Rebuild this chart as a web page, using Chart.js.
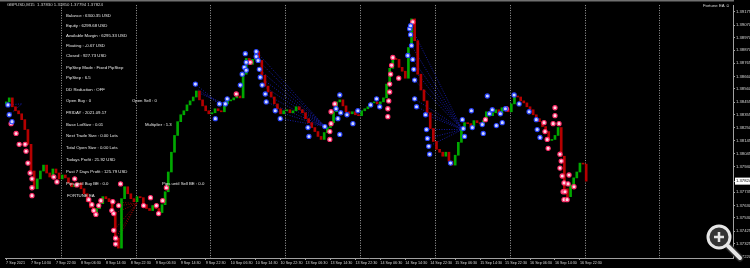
<!DOCTYPE html>
<html><head><meta charset="utf-8">
<script src="https://cdn.jsdelivr.net/npm/chart.js@4.4.1/dist/chart.umd.min.js"></script>
<style>
html,body{margin:0;padding:0;background:#000;overflow:hidden}
#wrap{position:relative;width:750px;height:268px;background:#000}
#c{position:absolute;left:0;top:0}
.t{position:absolute;color:#e8e8e8;font-family:"Liberation Sans",Arial,sans-serif;font-size:4.3px;line-height:5px;white-space:nowrap}
</style></head><body>
<div id="wrap"><canvas id="c" width="750" height="268"></canvas>
<div class="t" style="left:7px;top:2px;color:#d0d0d0">GBPUSD,M15&nbsp; 1.37830 1.37850 1.37794 1.37824</div>
<div class="t" style="left:66px;top:13px">Balance : 6300.35 USD</div>
<div class="t" style="left:66px;top:23px">Equity : 6299.68 USD</div>
<div class="t" style="left:66px;top:32.5px">Available Margin : 6295.33 USD</div>
<div class="t" style="left:66px;top:42.5px">Floating : -0.67 USD</div>
<div class="t" style="left:66px;top:52.5px">Closed : 927.73 USD</div>
<div class="t" style="left:66px;top:64.5px">PipStep Mode : Fixed PipStep</div>
<div class="t" style="left:66px;top:74.5px">PipStep : 6.5</div>
<div class="t" style="left:66px;top:86.5px">DD Reduction : OFF</div>
<div class="t" style="left:66px;top:98px">Open Buy : 0</div>
<div class="t" style="left:132px;top:98px">Open Sell : 0</div>
<div class="t" style="left:66px;top:110px">FRIDAY : 2021.09.17</div>
<div class="t" style="left:66px;top:121.5px">Base LotSize : 0.01</div>
<div class="t" style="left:145px;top:121.5px">Multiplier : 1.3</div>
<div class="t" style="left:66px;top:133px">Next Trade Size : 0.00 Lots</div>
<div class="t" style="left:66px;top:145px">Total Open Size : 0.00 Lots</div>
<div class="t" style="left:66px;top:157px">Todays Profit : 21.92 USD</div>
<div class="t" style="left:66px;top:168.5px">Past 7 Days Profit : 125.79 USD</div>
<div class="t" style="left:66px;top:181px">Pips until Buy BE : 0.0</div>
<div class="t" style="left:162px;top:181px">Pips until Sell BE : 0.0</div>
<div class="t" style="left:67px;top:192.5px">FORTUNE EA</div>
<div class="t" style="right:20px;top:2.5px;color:#d8d8d8">Fortune EA ☺</div>
</div>
<script>
// ---- data ----
const xTickLabels = ["7 Sep 2021","7 Sep 14:30","7 Sep 22:30","8 Sep 06:30","8 Sep 14:30","8 Sep 22:30",
  "9 Sep 06:30","9 Sep 14:30","9 Sep 22:30","10 Sep 06:30","10 Sep 14:30","10 Sep 22:30",
  "13 Sep 06:30","13 Sep 14:30","13 Sep 22:30","14 Sep 06:30","14 Sep 14:30","14 Sep 22:30",
  "15 Sep 06:30","15 Sep 14:30","15 Sep 22:30","16 Sep 06:30","16 Sep 14:30","16 Sep 22:30"];
const yTickValues = [1.39175,1.39070,1.38970,1.38870,1.38765,1.38660,1.38560,1.38455,1.38355,1.38250,
  1.38145,1.38045,1.37940,1.37824,1.37735,1.37630,1.37530,1.37425,1.37325,1.37220];
const currentPrice = 1.37824;
const daySeparators = [17.5,41.5,65.5,89.5,113.5,137.5,161.5,185.5,209.5];
const firstOpen = 1.38440;
const closes = [
1.38457,1.38489,1.38418,1.38386,1.38362,1.38315,1.38236,1.38118,1.37905,1.37763,
1.37842,1.37905,1.37952,1.37889,1.37857,1.37921,1.37889,1.37842,1.37873,1.37850,
1.37810,1.37779,1.37794,1.37810,1.37763,1.37723,1.37660,1.37613,1.37573,1.37605,
1.37644,1.37700,1.37684,1.37660,1.37573,1.37368,1.37289,1.37684,1.37779,1.37723,
1.37684,1.37660,1.37700,1.37692,1.37636,1.37605,1.37589,1.37629,1.37605,1.37573,
1.37636,1.37739,1.37897,1.38055,1.38189,1.38299,1.38354,1.38386,1.38433,1.38465,
1.38496,1.38544,1.38473,1.38425,1.38386,1.38362,1.38370,1.38402,1.38386,1.38378,
1.38441,1.38465,1.38473,1.38489,1.38504,1.38489,1.38678,1.38804,1.38757,1.38796,
1.38859,1.38788,1.38670,1.38583,1.38536,1.38496,1.38441,1.38402,1.38362,1.38386,
1.38394,1.38370,1.38386,1.38418,1.38394,1.38370,1.38323,1.38291,1.38252,1.38220,
1.38181,1.38157,1.38212,1.38252,1.38291,1.38378,1.38457,1.38473,1.38425,1.38378,
1.38362,1.38378,1.38354,1.38347,1.38386,1.38402,1.38418,1.38449,1.38457,1.38441,
1.38457,1.38489,1.38599,1.38725,1.38804,1.38796,1.38733,1.38702,1.38646,1.38891,
1.39120,1.38946,1.38678,1.38552,1.38465,1.38370,1.38244,1.38141,1.38078,1.38055,
1.38023,1.38055,1.37984,1.37952,1.38031,1.38134,1.38236,1.38291,1.38283,1.38260,
1.38307,1.38291,1.38283,1.38307,1.38378,1.38347,1.38370,1.38394,1.38362,1.38410,
1.38402,1.38378,1.38441,1.38504,1.38496,1.38465,1.38449,1.38418,1.38394,1.38354,
1.38323,1.38299,1.38260,1.38220,1.38149,1.38157,1.38189,1.38252,1.38023,1.37763,
1.37700,1.37794,1.37850,1.37897,1.37968,1.37960,1.37824];
const buyMarkers = [
[0.6,1.38433],[1.0,1.38354],[1.9,1.38299],[60.7,1.38599],[67.1,1.38323],[68.4,1.38441],[70.3,1.38441],
[70.9,1.38481],[75.1,1.38591],[75.7,1.38678],[76.4,1.38733],[76.7,1.38842],[77.0,1.38773],[77.0,1.38710],
[80.2,1.38859],[80.2,1.38820],[80.8,1.38788],[81.2,1.38717],[81.5,1.38654],[82.1,1.38591],[83.1,1.38520],
[83.4,1.38457],[86.3,1.38386],[87.9,1.38323],[96.8,1.38252],[97.1,1.38181],[102.2,1.38260],[105.8,1.38402],
[106.4,1.38323],[107.0,1.38512],[107.3,1.38370],[107.0,1.38197],[109.3,1.38354],[111.2,1.38283],[112.8,1.38386],
[116.9,1.38433],[118.8,1.38481],[119.8,1.38418],[128.8,1.38828],[129.4,1.39041],[129.7,1.39065],[129.7,1.38994],
[130.0,1.38907],[130.4,1.38796],[130.7,1.38717],[131.0,1.38631],[131.0,1.38481],[131.6,1.38418],[134.5,1.38354],
[134.8,1.38236],[135.1,1.38165],[135.5,1.38102],[135.8,1.38039],[142.5,1.37968],[146.3,1.38315],[146.6,1.38244],
[147.0,1.38181],[149.2,1.38386],[149.5,1.38252],[152.7,1.38276],[153.0,1.38205],[154.3,1.38504],[155.0,1.38362],
[155.9,1.38394],[157.2,1.38268],[158.5,1.38362],[159.1,1.38291],[160.1,1.38402],[162.9,1.38512],[164.5,1.38441],
[167.7,1.38378],[170.0,1.38315],[170.3,1.38236],[171.2,1.38173]];
const sellMarkers = [
[1.6,1.38283],[3.2,1.38205],[4.2,1.38118],[6.1,1.38118],[6.4,1.38063],[7.0,1.37968],[7.7,1.37889],[8.3,1.37842],
[8.3,1.37771],[8.3,1.37708],[15.3,1.37857],[16.3,1.37818],[22.0,1.37842],[22.7,1.37794],[26.5,1.37676],[27.5,1.37636],
[28.1,1.37589],[28.8,1.37558],[29.7,1.37629],[30.4,1.37668],[33.9,1.37589],[34.2,1.37660],[34.5,1.37565],[34.5,1.37431],
[35.1,1.37368],[35.1,1.37321],[36.1,1.37629],[36.7,1.37802],[44.1,1.37629],[46.3,1.37692],[48.2,1.37629],[48.9,1.37565],
[50.2,1.37668],[51.4,1.37771],[73.8,1.38520],[78.3,1.38773],[103.8,1.38157],[103.8,1.38220],[104.2,1.38283],[104.2,1.38378],
[105.4,1.38441],[122.4,1.38339],[122.4,1.38402],[122.7,1.38465],[123.0,1.38536],[123.0,1.38599],[123.3,1.38678],[123.6,1.38749],
[124.0,1.38812],[125.9,1.38646],[130.4,1.39096],[153.7,1.38315],[160.4,1.38402],[172.5,1.38291],[172.8,1.38220],[173.5,1.38157],
[173.8,1.38086],[176.0,1.38410],[176.0,1.38347],[175.4,1.38283],[177.3,1.38283],[177.6,1.38039],[178.0,1.37984],[177.6,1.37928],
[178.3,1.37865],[178.9,1.37810],[178.6,1.37739],[179.2,1.37739],[178.9,1.37676],[179.9,1.37676],[180.5,1.37873],[180.2,1.37802],
[182.1,1.37779]];
const buyLines = [
[0.6,1.38433,5.0,1.38441],[1.0,1.38354,5.0,1.38441],
[60.7,1.38599,68.4,1.38441],[61.7,1.38552,68.4,1.38441],[62.6,1.38520,70.3,1.38441],
[80.2,1.38859,102.2,1.38260],[80.8,1.38788,102.2,1.38260],[81.2,1.38717,102.2,1.38260],[81.5,1.38654,102.2,1.38260],
[82.1,1.38591,102.2,1.38260],[83.1,1.38520,102.2,1.38260],[83.4,1.38457,102.2,1.38260],[86.3,1.38386,102.2,1.38260],
[87.9,1.38323,102.2,1.38260],
[129.7,1.39065,146.3,1.38236],[130.0,1.38907,146.3,1.38236],[130.4,1.38796,146.3,1.38236],[130.7,1.38717,146.3,1.38236],
[131.0,1.38631,146.3,1.38236],[131.0,1.38481,146.3,1.38236],[131.6,1.38418,146.3,1.38236],[134.5,1.38354,146.3,1.38236],
[134.8,1.38236,146.3,1.38236],[135.1,1.38165,146.3,1.38236],[135.5,1.38102,146.3,1.38236]];
const sellLines = [
[34.2,1.37660,41.9,1.37644],[34.5,1.37565,41.9,1.37644],[34.5,1.37431,41.9,1.37644],
[35.1,1.37368,41.9,1.37644],[35.1,1.37321,41.9,1.37644],[36.1,1.37629,41.9,1.37644]];

// ---- build ----
const bars = closes.map((c,i)=>({x:i, y:[i===0?firstOpen:closes[i-1], c]}));
const barColors = bars.map(b=> b.y[1]>=b.y[0] ? '#00a800' : '#b40000');
const lineSets = [];
buyLines.forEach(s=>lineSets.push({type:'line',data:[{x:s[0],y:s[1]},{x:s[2],y:s[3]}],borderColor:'#1a22c8',borderWidth:0.8,borderDash:[1,1.5],pointRadius:0,order:3}));
sellLines.forEach(s=>lineSets.push({type:'line',data:[{x:s[0],y:s[1]},{x:s[2],y:s[3]}],borderColor:'#b00000',borderWidth:0.8,borderDash:[1,1.5],pointRadius:0,order:3}));

const overlay = {
  id:'overlay',
  beforeDatasetsDraw(chart){
    const {ctx, chartArea:a, scales:{x}} = chart;
    ctx.save();
    ctx.strokeStyle='#a0a0a0'; ctx.lineWidth=1; ctx.setLineDash([1,1.5]);
    daySeparators.forEach(t=>{
      const px=Math.round(x.getPixelForValue(t))+0.5;
      ctx.beginPath(); ctx.moveTo(px,a.top); ctx.lineTo(px,a.bottom); ctx.stroke();
    });
    ctx.restore();
  },
  afterDraw(chart){
    const {ctx, chartArea:a} = chart;
    ctx.save();
    ctx.fillStyle='#707070'; ctx.fillRect(0,0,a.right+1,1.5);
    // magnifier overlay
    ctx.lineCap='round';
    ctx.strokeStyle='#2a2a2a'; ctx.lineWidth=7;
    ctx.beginPath(); ctx.moveTo(728,246); ctx.lineTo(740,258); ctx.stroke();
    ctx.strokeStyle='#e6e6e6'; ctx.lineWidth=4;
    ctx.beginPath(); ctx.moveTo(728,246); ctx.lineTo(740,258); ctx.stroke();
    ctx.beginPath(); ctx.arc(719,237,11,0,Math.PI*2);
    ctx.fillStyle='rgba(55,55,55,0.95)'; ctx.fill();
    ctx.strokeStyle='#e6e6e6'; ctx.lineWidth=3; ctx.stroke();
    ctx.lineCap='butt'; ctx.lineWidth=2.5;
    ctx.beginPath(); ctx.moveTo(714,237); ctx.lineTo(724,237); ctx.moveTo(719,232); ctx.lineTo(719,242); ctx.stroke();
    ctx.restore();
  }
};

new Chart(document.getElementById('c'), {
  type:'bar',
  data:{datasets:[
    {type:'scatter',data:buyMarkers.map(m=>({x:m[0],y:m[1]})),pointRadius:2.1,pointBackgroundColor:'#cfd6ff',pointBorderColor:'#2a45ff',pointBorderWidth:1.1,order:0},
    {type:'scatter',data:sellMarkers.map(m=>({x:m[0],y:m[1]})),pointRadius:2.1,pointBackgroundColor:'#ffd6e2',pointBorderColor:'#ff2d6a',pointBorderWidth:1.1,order:0},
    {type:'bar',data:bars,backgroundColor:barColors,barThickness:2,minBarLength:1,grouped:false,order:1},
    ...lineSets
  ]},
  options:{
    responsive:false, animation:false, devicePixelRatio:1,
    layout:{padding:{top:2,left:0,right:0,bottom:0}},
    plugins:{legend:{display:false},tooltip:{enabled:false}},
    scales:{
      x:{type:'linear',position:'bottom',min:-0.318,max:233.08,offset:false,
        afterBuildTicks:s=>{s.ticks=xTickLabels.map((_,k)=>({value:k*8}));},
        afterFit:s=>{s.height=10;s.paddingLeft=0;s.paddingRight=0;},
        ticks:{autoSkip:false,maxRotation:0,minRotation:0,align:'start',padding:0.5,color:'#d8d8d8',
          font:{family:'Liberation Sans',size:3.7},callback:(v,i)=>xTickLabels[i]},
        grid:{drawOnChartArea:false,drawTicks:true,tickLength:2,color:'#a0a0a0',offset:false},
        border:{display:true,color:'#a0a0a0'}},
      y:{type:'linear',position:'right',min:1.37210,max:1.39230,
        afterBuildTicks:s=>{s.ticks=yTickValues.map(v=>({value:v}));},
        afterFit:s=>{s.width=17;s.paddingTop=0;s.paddingBottom=0;},
        ticks:{padding:1,font:{family:'Liberation Sans',size:4.2},
          color:c=>(c.tick&&c.tick.value===currentPrice)?'#000':'#d8d8d8',
          showLabelBackdrop:c=>!!(c.tick&&c.tick.value===currentPrice),
          backdropColor:'#ffffff',backdropPadding:{top:1,bottom:1,left:1,right:3},
          callback:v=>v.toFixed(5)},
        grid:{drawOnChartArea:false,drawTicks:true,tickLength:2,color:'#a0a0a0'},
        border:{display:true,color:'#a0a0a0'}}
    }
  },
  plugins:[overlay]
});
</script>
</body></html>
